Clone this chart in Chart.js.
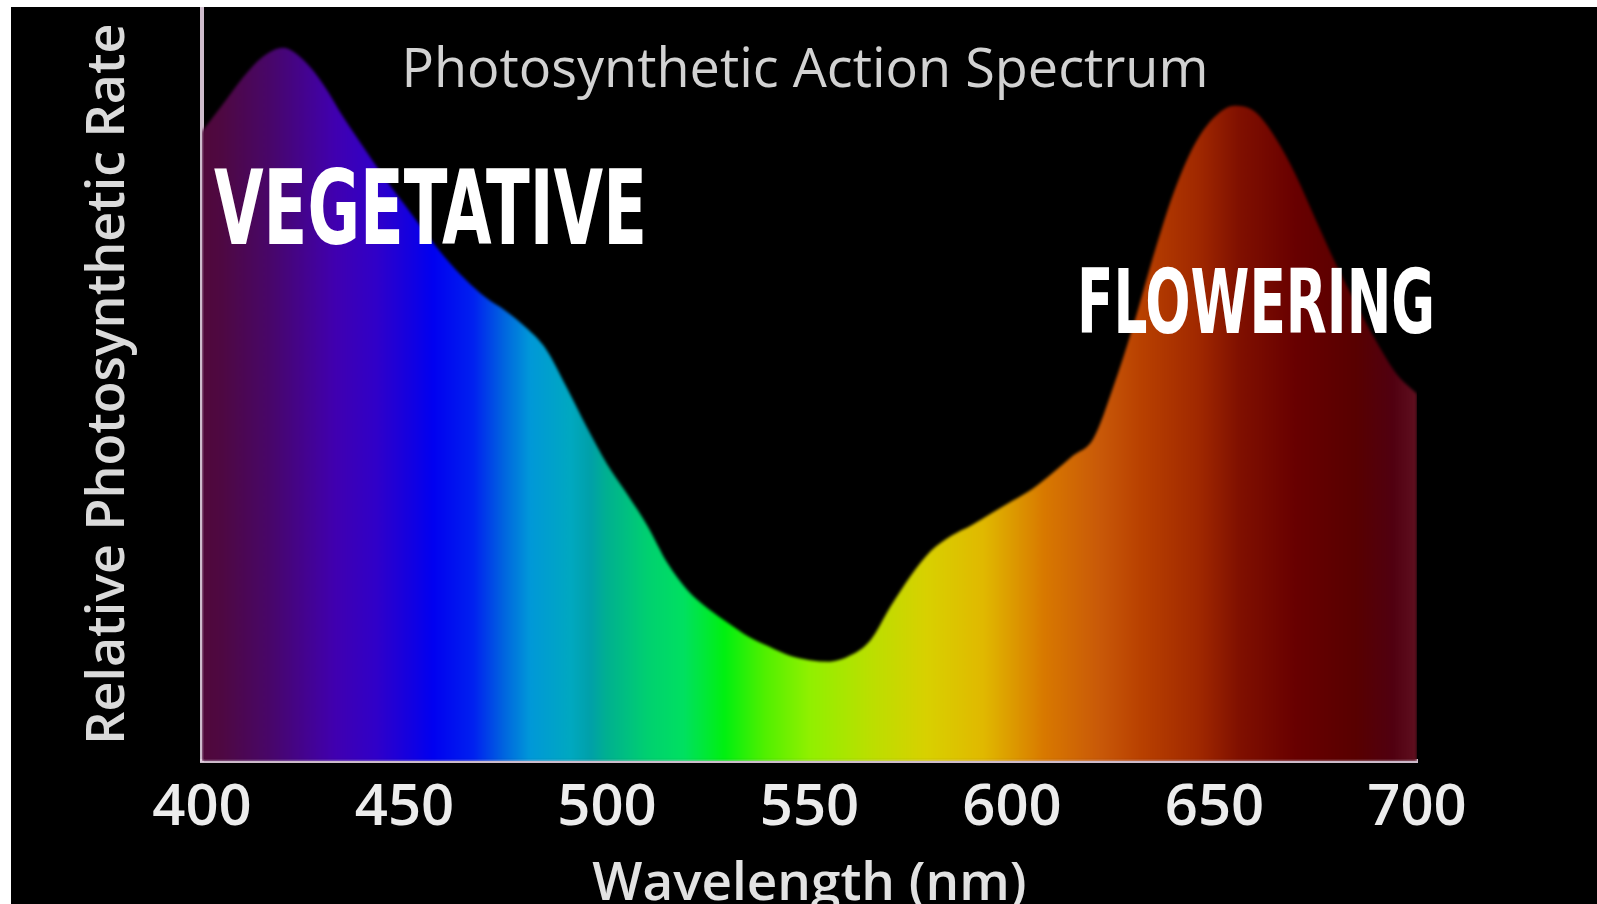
<!DOCTYPE html>
<html>
<head>
<meta charset="utf-8">
<script src="https://cdn.jsdelivr.net/npm/chart.js@4.4.1/dist/chart.umd.min.js"></script>
<style>
  html, body { margin: 0; padding: 0; background: #fff; overflow: hidden; }
  #wrap { position: absolute; left: 11px; top: 7px; width: 1586px; height: 910px; background: #000; }
</style>
</head>
<body>
<div id="wrap"><canvas id="spectrum"></canvas></div>
<script>
// ── Data ──
const wavelengths = [400, 405, 410, 415, 420, 425, 430, 435, 440, 445, 450, 455, 460, 465, 470, 475, 480, 485, 490, 495,
                     500, 505, 510, 515, 520, 525, 530, 535, 540, 545, 550, 555, 560, 565, 570, 575, 580, 585, 590, 595,
                     600, 605, 610, 615, 620, 625, 630, 635, 640, 645, 650, 655, 660, 665, 670, 675, 680, 685, 690, 695, 700];
const rate = [83.5, 87.0, 90.6, 93.4, 94.6, 93.0, 89.7, 85.3, 81.3, 77.4, 73.8, 70.2, 66.8, 63.9, 61.5, 59.7, 57.5, 54.6, 49.6, 44.3,
              39.4, 35.4, 31.2, 26.2, 22.6, 20.2, 18.3, 16.5, 15.2, 14.0, 13.4, 13.2, 14.0, 16.0, 20.5, 24.6, 27.9, 29.9, 31.3, 32.9,
              34.5, 36.1, 38.2, 40.5, 42.7, 49.6, 57.9, 67.2, 75.5, 81.7, 85.4, 86.9, 86.1, 82.7, 77.8, 71.8, 65.9, 60.6, 55.6, 51.3, 48.7];
const xTicks = [400, 450, 500, 550, 600, 650, 700];

// spectrum colours along the wavelength axis
const stopNm     = [400, 405, 417, 433, 443, 457, 467, 474, 481, 491, 496, 500, 510, 519, 529, 539, 550,
                    564, 579, 593, 608, 622, 632, 646, 656, 670, 685, 694, 700];
const stopColors = ['#50083a', '#4e0842', '#48066a', '#4000b0', '#3000c8', '#0000f0', '#0020f0', '#0060e0', '#0098d8',
                    '#00a8c0', '#00a0a8', '#00b090', '#00d070', '#00e060', '#00f010', '#50f000', '#90f000',
                    '#b8e000', '#d8d000', '#e0b800', '#d87800', '#c85808', '#b84000', '#a02800', '#801000',
                    '#680000', '#580000', '#500010', '#601020'];

const FONT = "'Open Sans', 'Noto Sans', sans-serif";

function spectrumFill(context) {
  const chart = context.chart;
  const area = chart.chartArea;
  if (!area) return null;
  const xs = chart.scales.x;
  const g = chart.ctx.createLinearGradient(xs.getPixelForValue(400), 0, xs.getPixelForValue(700), 0);
  stopNm.forEach((nm, i) => g.addColorStop((nm - 400) / 300, stopColors[i]));
  return g;
}

// soft edge on the filled area
const softEdge = {
  id: 'softEdge',
  beforeDatasetsDraw(chart) { chart.ctx.save(); chart.ctx.filter = 'blur(1.5px)'; },
  afterDatasetsDraw(chart) { chart.ctx.restore(); }
};

// overlay texts: title and the two stage labels
function fittedText(ctx, text, left, baseline, width, size, family, weight) {
  ctx.save();
  ctx.font = `${weight} ${size}px ${family}`;
  const w = ctx.measureText(text).width;
  ctx.translate(left, baseline);
  ctx.scale(width / w, 1);
  ctx.textAlign = 'left';
  ctx.textBaseline = 'alphabetic';
  ctx.fillText(text, 0, 0);
  ctx.restore();
}

const overlay = {
  id: 'overlay',
  afterDraw(chart) {
    const ctx = chart.ctx;
    ctx.save();
    ctx.fillStyle = '#d2d2d2';
    ctx.font = `500 54px ${FONT}`;
    ctx.textAlign = 'center';
    ctx.textBaseline = 'alphabetic';
    ctx.fillText('Photosynthetic Action Spectrum', 794, 80);
    ctx.restore();

    ctx.save();
    ctx.fillStyle = '#ffffff';
    const stageFont = "'Liberation Sans Narrow', 'DejaVu Sans Condensed', 'Liberation Sans', sans-serif";
    fittedText(ctx, 'VEGETATIVE', 203, 237, 433, 104, stageFont, 'bold');
    fittedText(ctx, 'FLOWERING', 1066, 326, 358, 89, stageFont, 'bold');
    ctx.restore();
  }
};

const ctx = document.getElementById('spectrum').getContext('2d');
new Chart(ctx, {
  type: 'line',
  data: {
    datasets: [{
      label: 'Relative Photosynthetic Rate',
      data: wavelengths.map((w, i) => ({ x: w, y: rate[i] })),
      fill: 'origin',
      backgroundColor: spectrumFill,
      borderWidth: 0,
      pointRadius: 0,
      cubicInterpolationMode: 'monotone'
    }]
  },
  options: {
    responsive: true,
    maintainAspectRatio: false,
    animation: false,
    layout: { padding: { left: 0, right: 180, top: 0, bottom: 0 } },
    plugins: { legend: { display: false }, tooltip: { enabled: false } },
    scales: {
      x: {
        type: 'linear',
        min: 400, max: 700,
        z: 1,
        afterBuildTicks: axis => { axis.ticks = xTicks.map(v => ({ value: v })); },
        grid: { display: false, drawTicks: false },
        border: { display: true, color: 'rgba(228,208,226,0.9)', width: 4 },
        ticks: { color: '#ececec', padding: 12, font: { family: FONT, size: 58, weight: '600', lineHeight: 1.2 } },
        title: {
          display: true, text: 'Wavelength (nm)', color: '#e2e2e2',
          font: { family: FONT, size: 53, weight: '600', lineHeight: 1.2 },
          padding: { top: -1.6, bottom: 0.2 }
        }
      },
      y: {
        min: 0, max: 100,
        z: 1,
        grid: { display: false, drawTicks: false },
        border: { display: true, color: 'rgba(228,208,226,0.9)', width: 4 },
        ticks: { display: false },
        title: {
          display: true, text: 'Relative Photosynthetic Rate', color: '#dadada',
          font: { family: FONT, size: 52, weight: '600', lineHeight: 1.2 },
          padding: { top: 67, bottom: 61.6 }
        }
      }
    }
  },
  plugins: [softEdge, overlay]
});
</script>
</body>
</html>
